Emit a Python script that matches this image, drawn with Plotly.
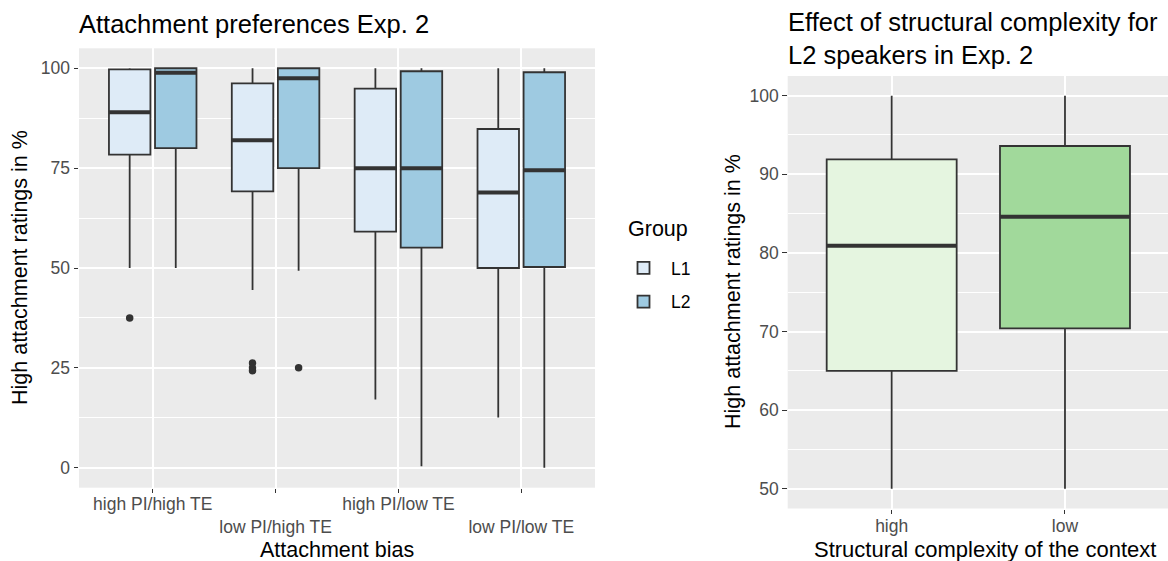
import plotly.graph_objects as go

# ---------------- data ----------------
categories = ["high PI/high TE", "low PI/high TE", "high PI/low TE", "low PI/low TE"]
groups = ["L1", "L2"]

l1_q1 = [78.4, 69.2, 59.1, 50.0]
l1_median = [89.0, 82.0, 75.0, 68.9]
l1_q3 = [99.7, 96.2, 94.9, 84.8]
l1_lower = [50.0, 44.5, 17.1, 12.6]
l1_upper = [100.0, 100.0, 100.0, 100.0]
l1_outlier_cat = [0, 1, 1, 1]
l1_outlier_val = [37.5, 26.2, 25.0, 24.3]

l2_q1 = [80.0, 75.0, 55.1, 50.25]
l2_median = [98.9, 97.5, 75.0, 74.5]
l2_q3 = [100.0, 100.0, 99.25, 99.0]
l2_lower = [50.0, 49.3, 0.4, 0.0]
l2_upper = [100.0, 100.0, 100.0, 100.0]
l2_outlier_cat = [1]
l2_outlier_val = [25.0]

complexity = ["high", "low"]
cx_q1 = [65.0, 70.4]
cx_median = [80.9, 84.6]
cx_q3 = [91.9, 93.6]
cx_lower = [50.0, 50.0]
cx_upper = [100.0, 100.0]

# ---------------- styles ----------------
FONT = "Liberation Sans"
EDGE = "#333333"
L_COLORS = {"L1": "#deebf7", "L2": "#9ecae1"}
CX_COLORS = ["#e5f5e0", "#a1d99b"]
DODGE = 0.1875
BOX_W = 0.3375
CX_W = 0.75

fig = go.Figure()

left = {
    "L1": (l1_q1, l1_median, l1_q3, l1_lower, l1_upper, l1_outlier_cat, l1_outlier_val, -DODGE),
    "L2": (l2_q1, l2_median, l2_q3, l2_lower, l2_upper, l2_outlier_cat, l2_outlier_val, DODGE),
}

for g in groups:
    q1, med, q3, lo, hi, ocat, oval, off = left[g]
    pos = [i + 1 + off for i in range(len(categories))]
    fig.add_trace(go.Box(
        x=pos, q1=q1, median=med, q3=q3, lowerfence=lo, upperfence=hi,
        width=BOX_W, whiskerwidth=0, fillcolor=L_COLORS[g],
        line=dict(color=EDGE, width=1.8), name=g, boxpoints=False,
        xaxis="x", yaxis="y", legendgroup=g,
    ))
    # thicker median line
    mx, my = [], []
    for p, m in zip(pos, med):
        mx += [p - BOX_W / 2, p + BOX_W / 2, None]
        my += [m, m, None]
    fig.add_trace(go.Scatter(x=mx, y=my, mode="lines", line=dict(color=EDGE, width=4),
                             showlegend=False, hoverinfo="skip", xaxis="x", yaxis="y",
                             legendgroup=g))
    # outliers
    fig.add_trace(go.Scatter(x=[c + 1 + off for c in ocat], y=oval, mode="markers",
                             marker=dict(color=EDGE, size=7.5), showlegend=False,
                             hoverinfo="skip", xaxis="x", yaxis="y", legendgroup=g))

for i, c in enumerate(complexity):
    fig.add_trace(go.Box(
        x=[i + 1], q1=[cx_q1[i]], median=[cx_median[i]], q3=[cx_q3[i]],
        lowerfence=[cx_lower[i]], upperfence=[cx_upper[i]],
        width=CX_W, whiskerwidth=0, fillcolor=CX_COLORS[i],
        line=dict(color=EDGE, width=1.8), name=c, boxpoints=False,
        showlegend=False, xaxis="x2", yaxis="y2",
    ))
    fig.add_trace(go.Scatter(x=[i + 1 - CX_W / 2, i + 1 + CX_W / 2],
                             y=[cx_median[i], cx_median[i]], mode="lines",
                             line=dict(color=EDGE, width=4), showlegend=False,
                             hoverinfo="skip", xaxis="x2", yaxis="y2"))

W, H = 1168, 561
tickfont = dict(family=FONT, size=17.5, color="#4d4d4d")
axis_common = dict(showline=False, zeroline=False, ticks="outside", ticklen=4.5,
                   tickwidth=1.3, tickcolor=EDGE, tickfont=tickfont,
                   showgrid=True, gridcolor="white", gridwidth=2)

ticktext_left = [("<br>" + c) if i % 2 == 1 else c for i, c in enumerate(categories)]

fig.update_layout(
    width=W, height=H,
    margin=dict(l=0, r=0, t=0, b=0),
    paper_bgcolor="white", plot_bgcolor="#ebebeb",
    font=dict(family=FONT, color="black"),
    showlegend=True,
    xaxis=dict(domain=[79 / W, 595 / W], range=[0.4, 4.6], tickmode="array",
               tickvals=[1, 2, 3, 4], ticktext=ticktext_left, anchor="y",
               ticklabelstandoff=-4, **axis_common),
    yaxis=dict(domain=[(H - 487.7) / H, (H - 48.3) / H], range=[-5, 105],
               tickmode="array", tickvals=[0, 25, 50, 75, 100], anchor="x",
               minor=dict(tickvals=[12.5, 37.5, 62.5, 87.5], showgrid=True,
                          gridcolor="white", gridwidth=1, ticks=""),
               **axis_common),
    xaxis2=dict(domain=[787.7 / W, 1.0], range=[0.4, 0.4 + (W - 787.7) / 173.3],
                tickmode="array", tickvals=[1, 2], ticktext=complexity, anchor="y2",
                ticklabelstandoff=-3, **axis_common),
    yaxis2=dict(domain=[(H - 508.5) / H, (H - 76) / H], range=[47.5, 102.5],
                tickmode="array", tickvals=[50, 60, 70, 80, 90, 100], anchor="x2",
                minor=dict(tickvals=[55, 65, 75, 85, 95], showgrid=True,
                           gridcolor="white", gridwidth=1, ticks=""),
                **axis_common),
    legend=dict(x=616 / W, y=1 - 250 / H, xanchor="left", yanchor="top",
                font=dict(family=FONT, size=17.5, color="black"),
                bgcolor="rgba(0,0,0,0)", traceorder="grouped", tracegroupgap=8,
                itemwidth=45),
    annotations=[
        dict(text="Attachment preferences Exp. 2", x=77 / W, y=1 - 24 / H,
             xref="paper", yref="paper", xanchor="left", yanchor="middle",
             showarrow=False, font=dict(family=FONT, size=25.5, color="black")),
        dict(text="Effect of structural complexity for<br>L2 speakers in Exp. 2",
             x=786 / W, y=1 - 38 / H, xref="paper", yref="paper", xanchor="left",
             yanchor="middle", align="left", showarrow=False,
             font=dict(family=FONT, size=25.5, color="black")),
        dict(text="Group", x=626 / W, y=1 - 229 / H, xref="paper", yref="paper",
             xanchor="left", yanchor="middle", showarrow=False,
             font=dict(family=FONT, size=21.5, color="black")),
        dict(text="Attachment bias", x=337 / W, y=1 - 550 / H, xref="paper", yref="paper",
             xanchor="center", yanchor="middle", showarrow=False,
             font=dict(family=FONT, size=21.5, color="black")),
        dict(text="Structural complexity of the context", x=984.5 / W, y=1 - 549 / H,
             xref="paper", yref="paper", xanchor="center", yanchor="middle",
             showarrow=False, font=dict(family=FONT, size=22, color="black")),
        dict(text="High attachment ratings in %", x=20 / W, y=1 - 268 / H,
             xref="paper", yref="paper", xanchor="center", yanchor="middle",
             textangle=-90, showarrow=False, font=dict(family=FONT, size=21.5, color="black")),
        dict(text="High attachment ratings in %", x=733 / W, y=1 - 292 / H,
             xref="paper", yref="paper", xanchor="center", yanchor="middle",
             textangle=-90, showarrow=False, font=dict(family=FONT, size=21.5, color="black")),
    ],
)

fig.write_html("out.html", config={"displayModeBar": False},
               post_script="document.body.style.margin='0';document.body.style.overflow='hidden';")
